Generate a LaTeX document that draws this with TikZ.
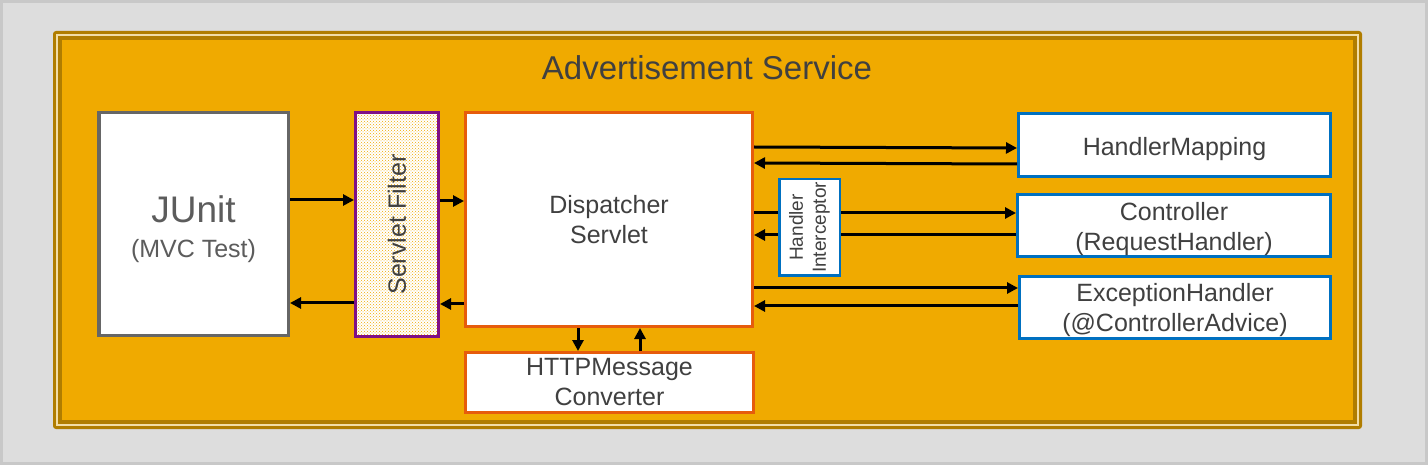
\documentclass[tikz,border=0pt]{standalone}
\usepackage{fontspec}
\setmainfont{Liberation Sans}
\usepackage{xcolor}
\usepackage{tikz}
\usetikzlibrary{arrows.meta,patterns}

\definecolor{bggray}{HTML}{DDDDDD}
\definecolor{bgedge}{HTML}{C8C8C8}
\definecolor{svcgold}{HTML}{F0AA00}
\definecolor{svcedge}{HTML}{B07D00}
\definecolor{svccream}{HTML}{F2DDA6}
\definecolor{txtgray}{HTML}{404040}
\definecolor{junitedge}{HTML}{666666}
\definecolor{filteredge}{HTML}{7F0F86}
\definecolor{dispedge}{HTML}{E65C0C}
\definecolor{handleredge}{HTML}{0070C0}

\newcommand{\lowertext}[1]{\rule{0pt}{#1}}

\tikzset{
	box/.style={draw, fill=white, line width=3pt, inner sep=0pt, align=center,
		text=txtgray, font=\fontsize{25}{30}\selectfont},
	flow/.style={-{Triangle[length=11pt,width=11pt]}, line width=3pt, black},
}

\begin{document}
\begin{tikzpicture}[x=1pt, y=-1pt]
		% background and service frame
		\useasboundingbox (0,0) rectangle (1428,465);
		\fill [bgedge] (0,0) rectangle (1428,465);
		\fill [bggray] (3,3) rectangle (1425,462);
		\fill [svcedge, rounded corners=3pt] (53,31) rectangle (1362,429);
		\fill [svccream] (56,34) rectangle (1359,426);
		\fill [svcedge] (58,36) rectangle (1357,424);
		\fill [svcgold] (62,40) rectangle (1353,420);
		\node (title) at (707,68) [text=txtgray, font=\fontsize{33}{40}\selectfont] {Advertisement Service};

		\node (junit) at (193.5,224) [box, draw=junitedge, text=junitedge!90!black, line width=3.5pt,
			minimum width=189.5pt, minimum height=222.5pt]
			{{\fontsize{37}{40}\selectfont\lowertext{37pt}JUnit}\\[5pt](MVC Test)};
		\node (filter) at (397,224.5) [box, draw=filteredge, fill=none, preaction={fill=white},
			pattern=crosshatch dots, pattern color=svcgold,
			minimum width=83pt, minimum height=224pt] {};
		\node (filtertext) at (filter.center) [rotate=90, text=txtgray, font=\fontsize{25}{30}\selectfont] {Servlet Filter};
		\node (disp) at (609,219.5) [box, draw=dispedge, minimum width=287pt, minimum height=214pt]
			{Dispatcher\\Servlet};
		\node (http) at (609.5,382.5) [box, draw=dispedge, minimum width=288pt, minimum height=60pt]
			{HTTPMessage\\Converter};

		\node (hmap) at (1174.5,145) [box, draw=handleredge, minimum width=312pt, minimum height=63pt]
			{\lowertext{27pt}HandlerMapping};
		\node (ctrl) at (1174,225.5) [box, draw=handleredge, minimum width=313pt, minimum height=62pt]
			{\lowertext{26pt}Controller\\(RequestHandler)};
		\node (exh) at (1175,307.5) [box, draw=handleredge, minimum width=311pt, minimum height=62pt]
			{\lowertext{23pt}ExceptionHandler\\(@ControllerAdvice)};

		\draw [flow] (junit.east |- 0,200) -- (filter.west |- 0,200);
		\draw [flow] (filter.west |- 0,303) -- (junit.east |- 0,303);
		\draw [flow] (filter.east |- 0,201) -- (disp.west |- 0,201);
		\draw [flow] (disp.west |- 0,304) -- (filter.east |- 0,304);
		\draw [flow] (disp.south -| 578,0) -- (http.north -| 578,0);
		\draw [flow] (http.north -| 640,0) -- (disp.south -| 640,0);

		\draw [flow] (disp.east |- 0,147) -- (hmap.west |- 0,148);
		\draw [flow] (hmap.west |- 0,164) -- (disp.east |- 0,163);
		\draw [flow] (disp.east |- 0,213) -- (ctrl.west |- 0,213);
		\draw [flow] (ctrl.west |- 0,235) -- (disp.east |- 0,235);
		\draw [flow] (disp.east |- 0,288) -- (exh.west |- 0,288);
		\draw [flow] (exh.west |- 0,306) -- (disp.east |- 0,306);

		\node (hint) at (809.5,227.5) [box, draw=handleredge, line width=2.5pt,
			minimum width=60.5pt, minimum height=96.5pt] {};
		\node (hinttext) at (hint.center) [rotate=90, align=center, text=txtgray,
			font=\fontsize{19}{23}\selectfont] {Handler\\Interceptor};
	\end{tikzpicture}
\end{document}
